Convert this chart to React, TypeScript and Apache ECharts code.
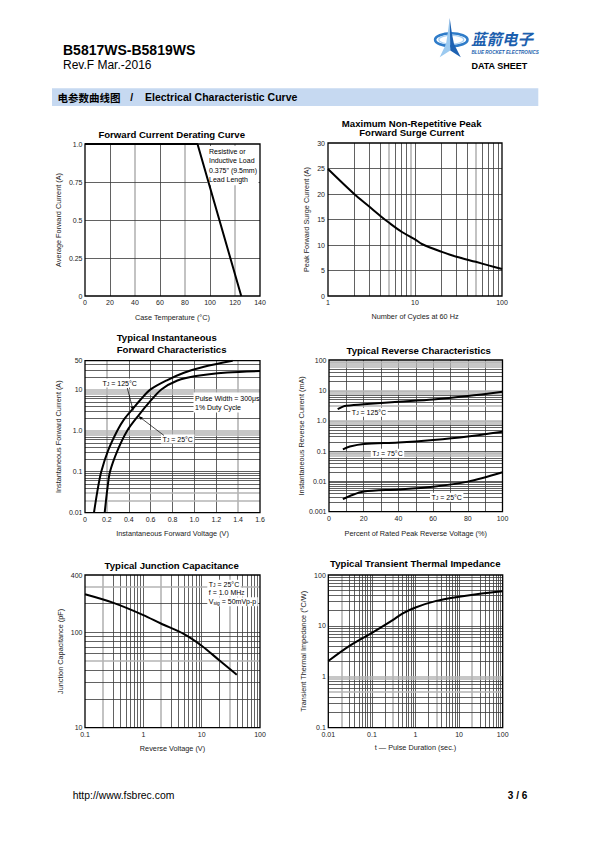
import React, { useEffect, useRef } from 'react';
import * as echarts from 'echarts';

const FONT = "'Liberation Sans', Arial, Helvetica, sans-serif";
const CJK = "'Noto Sans CJK SC', sans-serif";

// ---------- Chart 1: Forward Current Derating Curve ----------
const deratingTemp = [0, 90, 125];
const deratingCurrent = [1.0, 1.0, 0];
const deratingGridX = [20, 40, 60, 80, 100, 120];
const deratingGrayX = [40, 80, 120];
const deratingGridY = [0.25, 0.5, 0.75];

// ---------- Chart 2: Max Non-Repetitive Peak Forward Surge Current ----------
const surgeCycles = [1, 2, 3, 4, 5, 7, 10, 12, 20, 30, 50, 70, 100];
const surgeCurrent = [24.9, 20, 17.5, 15.7, 14.4, 12.6, 11.1, 10.2, 8.7, 7.7, 6.7, 6.0, 5.3];
const surgeGridY = [5, 10, 15, 20, 25];
const surgeGrayX = [5, 9, 50];

// ---------- Chart 3: Typical Instantaneous Forward Characteristics ----------
const fwd125V = [0.082, 0.116, 0.149, 0.21, 0.296, 0.357, 0.433, 0.509, 0.6, 0.753, 0.905, 1.088, 1.35];
const fwd125I = [0.01, 0.037, 0.1, 0.32, 1, 1.87, 3.27, 5.7, 10, 16.9, 25.5, 35.7, 50];
const fwd25V = [0.18, 0.204, 0.229, 0.296, 0.387, 0.485, 0.585, 0.698, 0.845, 1.0, 1.3, 1.6];
const fwd25I = [0.01, 0.037, 0.1, 0.32, 1, 2.25, 4.75, 10, 16.5, 21, 25.8, 28];
const fwdGridX = [0.2, 0.4, 0.6, 0.8, 1.0, 1.2, 1.4];
const fwdGrayX = [0.2, 1.4];
const fwdGrayY = [0.02, 0.03, 0.8, 0.9, 1, 8, 9, 10];

// ---------- Chart 4: Typical Reverse Characteristics ----------
const rev125Pct = [5, 8, 10, 20, 40, 60, 80, 100];
const rev125mA = [2.4, 2.9, 3.1, 3.5, 4.2, 5.0, 6.5, 9.0];
const rev75Pct = [8, 12, 20, 40, 60, 80, 100];
const rev75mA = [0.114, 0.14, 0.17, 0.19, 0.23, 0.3, 0.43];
const rev25Pct = [8, 12, 20, 40, 60, 80, 100];
const rev25mA = [0.0026, 0.0033, 0.0046, 0.0054, 0.0067, 0.0098, 0.02];
const revGridX = [10, 20, 30, 40, 50, 60, 70, 80, 90];
const revGrayY = [0.07, 0.08, 0.09, 0.8, 0.9, 1, 3, 8, 9, 10, 60, 70, 80, 90];

// ---------- Chart 5: Typical Junction Capacitance ----------
const capVolt = [0.1, 0.3, 1, 2, 5, 10, 20, 40];
const capPF = [251, 205, 152, 124, 96, 72.5, 51, 36];
const capGrayX = [0.2, 2, 30];
const capGrayY = [50, 300];

// ---------- Chart 6: Typical Transient Thermal Impedance ----------
const thermT = [0.01, 0.03, 0.1, 0.3, 0.5, 1, 3, 10, 30, 100];
const thermZ = [2.04, 4.0, 7.3, 13, 17.5, 23, 31, 37.5, 43, 48];
const thermGrayX = [0.02, 0.3, 3, 20];
const thermGrayY = [0.5, 0.9, 1];

// decade grid-line positions (1..9 x 10^n strictly inside the range)
function decadeTicks(lo: number, hi: number): number[] {
  const out: number[] = [];
  for (let e = Math.floor(Math.log10(lo)) - 1; e <= Math.ceil(Math.log10(hi)); e++) {
    for (let m = 1; m <= 9; m++) {
      const v = parseFloat((m * Math.pow(10, e)).toPrecision(3));
      if (v > lo * 1.0001 && v < hi * 0.9999) out.push(v);
    }
  }
  return out;
}

const DARK = { color: '#3a3a3a', width: 0.8, opacity: 1 };
const GRAY = { color: '#b4b4b4', width: 1.6, opacity: 1 };

const GRIDS = [
  { left: 85, top: 144, width: 175, height: 152 },
  { left: 328, top: 143, width: 174, height: 153 },
  { left: 85, top: 360.7, width: 175, height: 152 },
  { left: 329, top: 360, width: 173.5, height: 151.7 },
  { left: 85, top: 575, width: 175, height: 152.7 },
  { left: 328.3, top: 575, width: 174.4, height: 152.7 },
];

function gridSeries(idx: number, xs: number[], ys: number[], xr: number[], yr: number[], grayX: number[] = [], grayY: number[] = []) {
  const data: any[] = [];
  xs.forEach((v) => data.push({ coords: [[v, yr[0]], [v, yr[1]]], lineStyle: grayX.includes(v) ? GRAY : DARK }));
  ys.forEach((v) => data.push({ coords: [[xr[0], v], [xr[1], v]], lineStyle: grayY.includes(v) ? GRAY : DARK }));
  return {
    type: 'lines', coordinateSystem: 'cartesian2d', xAxisIndex: idx, yAxisIndex: idx,
    z: 1, silent: true, polyline: false, lineStyle: DARK, data, animation: false,
  };
}

function curve(idx: number, xs: number[], ys: number[], smooth: number | boolean = 0.3) {
  return {
    type: 'line', xAxisIndex: idx, yAxisIndex: idx, z: 3, silent: true,
    data: xs.map((x, i) => [x, ys[i]]), smooth, symbol: 'none',
    lineStyle: { color: '#000', width: 2 }, animation: false,
  };
}

const fmt = (one: string) => (v: number) => {
  const n = parseFloat(Number(v).toPrecision(4));
  if (n === 1) return one;
  return String(n);
};

function axis(idx: number, opts: any) {
  const { name, nameGap, labelMargin = 3, formatter, ...rest } = opts;
  return {
    gridIndex: idx,
    axisLine: { show: false },
    axisTick: { show: false },
    splitLine: { show: false },
    minorTick: { show: false },
    axisLabel: {
      fontSize: 7, color: '#222', fontFamily: FONT, margin: labelMargin,
      formatter, showMinLabel: true, showMaxLabel: true,
    },
    name, nameLocation: 'middle', nameGap,
    nameTextStyle: { fontSize: 7.3, color: '#222', fontFamily: FONT },
    ...rest,
  };
}

function txt(x: number, y: number, text: string, o: any = {}) {
  const align = o.align || 'left';
  const va = o.va || 'middle';
  return {
    type: 'text', x, y, z: o.z ?? 2, silent: true,
    style: {
      text, fill: o.fill || '#000', fontSize: o.size || 7, fontWeight: o.weight || 'normal',
      fontStyle: o.style || 'normal', fontFamily: o.family || FONT,
      align, textAlign: align, verticalAlign: va, textVerticalAlign: va,
      backgroundColor: o.bg, padding: o.bg ? o.pad || [1, 1.5] : undefined,
      lineHeight: o.lh, rich: o.rich,
    },
  };
}

const SUB = { s: { fontSize: 5, fontFamily: FONT, verticalAlign: 'bottom', fill: '#000', color: '#000' } };
const subTxt = (x: number, y: number, text: string, o: any = {}) =>
  txt(x, y, text, { rich: SUB, bg: '#fff', size: 7, ...o });

function arrow(x1: number, y1: number, x2: number, y2: number) {
  const dx = x2 - x1, dy = y2 - y1, L = Math.hypot(dx, dy);
  const ux = dx / L, uy = dy / L;
  const bx = x2 - 4.5 * ux, by = y2 - 4.5 * uy;
  const px = -uy * 1.6, py = ux * 1.6;
  return [
    { type: 'line', z: 2, silent: true, shape: { x1, y1, x2: bx, y2: by }, style: { stroke: '#000', lineWidth: 0.7 } },
    { type: 'polygon', z: 2, silent: true, shape: { points: [[x2, y2], [bx + px, by + py], [bx - px, by - py]] }, style: { fill: '#000' } },
  ];
}

function buildOption() {
  const xAxis = [
    axis(0, { type: 'value', min: 0, max: 140, interval: 20, name: 'Case Temperature (°C)', nameGap: 18 }),
    axis(1, { type: 'log', logBase: 10, min: 1, max: 100, name: 'Number of Cycles at 60 Hz', nameGap: 17, formatter: fmt('1') }),
    axis(2, { type: 'value', min: 0, max: 1.6, interval: 0.2, name: 'Instantaneous Forward Voltage (V)', nameGap: 17.6, formatter: (v: number) => (v === 0 ? '0' : v.toFixed(1)) }),
    axis(3, { type: 'value', min: 0, max: 100, interval: 20, name: 'Percent of Rated Peak Reverse Voltage (%)', nameGap: 18.6 }),
    axis(4, { type: 'log', logBase: 10, min: 0.1, max: 100, name: 'Reverse Voltage (V)', nameGap: 17, formatter: fmt('1') }),
    axis(5, { type: 'log', logBase: 10, min: 0.01, max: 100, name: 't — Pulse Duration (sec.)', nameGap: 16.3, formatter: fmt('1') }),
  ];
  const yAxis = [
    axis(0, { type: 'value', min: 0, max: 1, interval: 0.25, name: 'Average Forward Current (A)', nameGap: 23, labelMargin: 2.5, formatter: fmt('1.0') }),
    axis(1, { type: 'value', min: 0, max: 30, interval: 5, name: 'Peak Forward Surge Current (A)', nameGap: 17.6, labelMargin: 3 }),
    axis(2, { type: 'log', logBase: 10, min: 0.01, max: 50, name: 'Instantaneous Forward Current (A)', nameGap: 23, labelMargin: 2.5, formatter: fmt('1.0') }),
    axis(3, { type: 'log', logBase: 10, min: 0.001, max: 100, name: 'Instantaneous Reverse Current (mA)', nameGap: 22, labelMargin: 2.5, formatter: fmt('1.0') }),
    axis(4, { type: 'log', logBase: 10, min: 10, max: 400, name: 'Junction Capacitance (pF)', nameGap: 21.4, labelMargin: 2.5, formatter: fmt('1') }),
    axis(5, { type: 'log', logBase: 10, min: 0.1, max: 100, name: 'Transient Thermal Impedance (°C/W)', nameGap: 21.3, labelMargin: 2.5, formatter: fmt('1') }),
  ];

  const series: any[] = [
    gridSeries(0, deratingGridX, deratingGridY, [0, 140], [0, 1], deratingGrayX, []),
    curve(0, deratingTemp, deratingCurrent, false),
    gridSeries(1, decadeTicks(1, 100), surgeGridY, [1, 100], [0, 30], surgeGrayX, []),
    curve(1, surgeCycles, surgeCurrent, 0.3),
    gridSeries(2, fwdGridX, decadeTicks(0.01, 50), [0, 1.6], [0.01, 50], fwdGrayX, fwdGrayY),
    curve(2, fwd125V, fwd125I, 0.3),
    curve(2, fwd25V, fwd25I, 0.3),
    gridSeries(3, revGridX, decadeTicks(0.001, 100), [0, 100], [0.001, 100], [], revGrayY),
    curve(3, rev125Pct, rev125mA, 0.3),
    curve(3, rev75Pct, rev75mA, 0.3),
    curve(3, rev25Pct, rev25mA, 0.3),
    gridSeries(4, decadeTicks(0.1, 100), decadeTicks(10, 400), [0.1, 100], [10, 400], capGrayX, capGrayY),
    curve(4, capVolt, capPF, 0.3),
    gridSeries(5, decadeTicks(0.01, 100), decadeTicks(0.1, 100), [0.01, 100], [0.1, 100], thermGrayX, thermGrayY),
    curve(5, thermT, thermZ, 0.3),
  ];

  const blue = '#1d5fae';
  const graphic: any[] = [
    // header
    txt(63, 50, 'B5817WS-B5819WS', { size: 14, weight: 'bold' }),
    txt(63, 64.5, 'Rev.F Mar.-2016', { size: 12 }),
    { type: 'ellipse', z: 2, silent: true, shape: { cx: 451.3, cy: 39.7, rx: 16.2, ry: 6.4 }, style: { fill: 'none', stroke: '#2f7cc9', lineWidth: 2.6 } },
    { type: 'ellipse', z: 2, silent: true, shape: { cx: 451.3, cy: 39.7, rx: 12.5, ry: 4.3 }, style: { fill: 'none', stroke: '#a9d0f2', lineWidth: 1.2 } },
    { type: 'polygon', z: 3, silent: true, shape: { points: [[449.7, 18], [447.6, 34], [446, 44], [439.7, 57.3], [450.3, 50.5]] }, style: { fill: '#9ccaf0' } },
    { type: 'polygon', z: 3, silent: true, shape: { points: [[449.7, 18], [452, 34], [454, 44], [460.8, 57.3], [450.3, 50.5]] }, style: { fill: '#1e62b2' } },
    txt(471, 37.8, '蓝箭电子', { size: 15.5, weight: 'bold', style: 'italic', family: CJK, fill: blue, lh: 15 }),
    txt(471.5, 52, 'BLUE ROCKET ELECTRONICS', { size: 4.6, weight: 'bold', style: 'italic', fill: blue, lh: 5 }),
    txt(527.3, 66, 'DATA SHEET', { size: 9, weight: 'bold', align: 'right' }),
    { type: 'rect', z: 1, silent: true, shape: { x: 52, y: 88.3, width: 486.3, height: 17.7 }, style: { fill: '#c6d9f1' } },
    txt(57.5, 97.3, '电参数曲线图', { size: 10.5, weight: 'bold', family: CJK }),
    txt(131.7, 97.3, '/', { size: 10.5, weight: 'bold', align: 'center' }),
    txt(145, 97.3, 'Electrical Characteristic Curve', { size: 10.5, weight: 'bold' }),
    // footer
    txt(72.7, 795, 'http://www.fsbrec.com', { size: 10.4 }),
    txt(527.3, 795, '3 / 6', { size: 10, weight: 'bold', align: 'right' }),
    // chart titles
    txt(171.7, 134.3, 'Forward Current Derating Curve', { size: 9.6, weight: 'bold', align: 'center' }),
    txt(411.7, 123.3, 'Maximum Non-Repetitive Peak', { size: 9.6, weight: 'bold', align: 'center' }),
    txt(411.7, 132.7, 'Forward Surge Current', { size: 9.6, weight: 'bold', align: 'center' }),
    txt(116.7, 337.7, 'Typical Instantaneous', { size: 9.6, weight: 'bold' }),
    txt(116.7, 349, 'Forward Characteristics', { size: 9.6, weight: 'bold' }),
    txt(418.7, 350, 'Typical Reverse Characteristics', { size: 9.6, weight: 'bold', align: 'center' }),
    txt(171.7, 565, 'Typical Junction Capacitance', { size: 9.6, weight: 'bold', align: 'center' }),
    txt(415.3, 563.3, 'Typical Transient Thermal Impedance', { size: 9.6, weight: 'bold', align: 'center' }),
    // chart 1 note
    txt(207.5, 146, 'Resistive or\nInductive Load\n0.375" (9.5mm)\nLead Length', { size: 7, va: 'top', bg: '#fff', lh: 9.3, pad: [1, 1.5, 1, 1.5] }),
    // chart 3 notes
    subTxt(101, 383, 'T{s|J} = 125°C'),
    subTxt(161, 439, 'T{s|J} = 25°C'),
    ...arrow(127.3, 388, 133.3, 411),
    ...arrow(164, 435.5, 138.3, 416),
    txt(193.5, 392.5, 'Pulse Width = 300μs\n1% Duty Cycle', { size: 7, va: 'top', bg: '#fff', lh: 9 }),
    // chart 4 notes
    subTxt(369, 412.3, 'T{s|J} = 125°C', { align: 'center' }),
    subTxt(387.5, 453.3, 'T{s|J} = 75°C', { align: 'center' }),
    subTxt(446.7, 497.3, 'T{s|J} = 25°C', { align: 'center' }),
    // chart 5 notes
    subTxt(207.3, 584.3, 'T{s|J} = 25°C'),
    subTxt(207.3, 592.3, 'f = 1.0 MH{s|Z}'),
    subTxt(207.3, 601.7, 'V{s|sig} = 50mVp-p'),
  ];

  return {
    animation: false,
    backgroundColor: '#fff',
    textStyle: { fontFamily: FONT },
    grid: GRIDS.map((g) => ({ ...g, show: true, borderColor: '#000', borderWidth: 1.3, backgroundColor: 'transparent', z: 4, containLabel: false, outerBoundsMode: 'none' })),
    xAxis, yAxis, series, graphic,
  };
}

export default function App() {
  const ref = useRef<HTMLDivElement>(null);
  useEffect(() => {
    if (!ref.current) return;
    const chart = echarts.init(ref.current, undefined, { renderer: 'svg' });
    chart.setOption(buildOption() as any);
    return () => chart.dispose();
  }, []);
  return <div ref={ref} style={{ position: 'absolute', left: 0, top: 0, width: 595, height: 842, background: '#fff' }} />;
}
